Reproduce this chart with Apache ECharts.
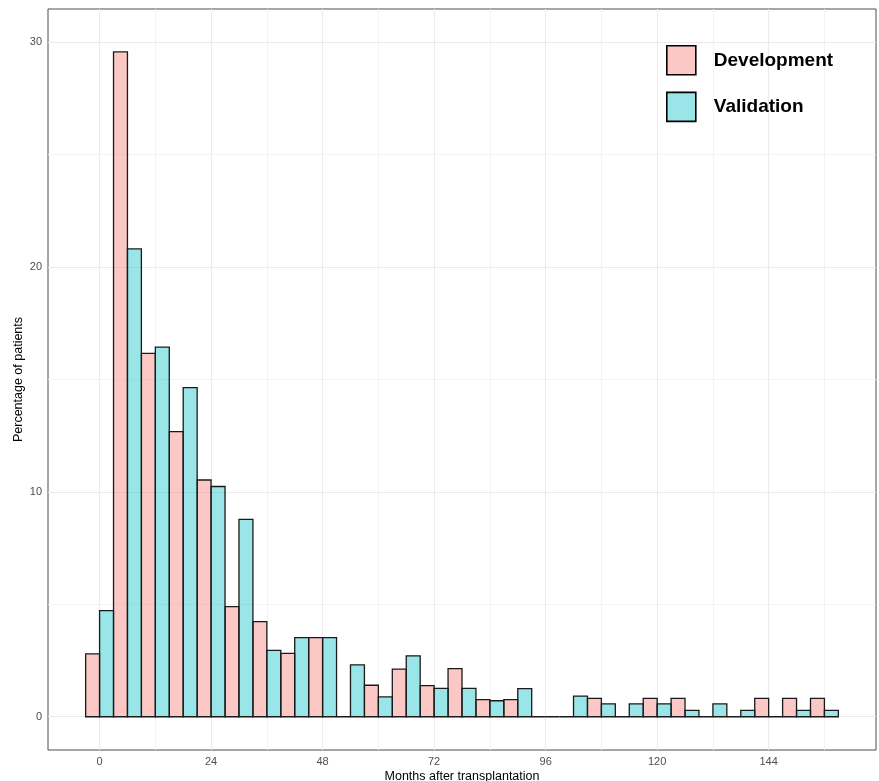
<!DOCTYPE html>
<html>
<head>
<meta charset="utf-8">
<script src="https://cdn.jsdelivr.net/npm/echarts@6/dist/echarts.min.js"></script>
<style>
  html, body { margin: 0; padding: 0; background: #fff; }
  #chart { width: 879px; height: 781px; }
</style>
</head>
<body>
<div id="chart"></div>
<script>
// Histogram bins (months after transplantation), 6-month wide, labelled by centre
const binCenters = [0, 6, 12, 18, 24, 30, 36, 42, 48, 54, 60, 66, 72, 78, 84, 90,
                    96, 102, 108, 114, 120, 126, 132, 138, 144, 150, 156];
const binWidth = 6;

// Percentage of patients per bin
const development = [2.80, 29.57, 16.16, 12.68, 10.53, 4.90, 4.23, 2.82, 3.52, 0, 1.40, 2.12,
                     1.38, 2.14, 0.76, 0.76, 0, 0, 0.82, 0, 0.82, 0.82, 0, 0, 0.82, 0.82, 0.82];
const validation  = [4.72, 20.81, 16.44, 14.64, 10.24, 8.78, 2.95, 3.52, 3.52, 2.31, 0.88, 2.71,
                     1.26, 1.26, 0.71, 1.25, 0, 0.92, 0.57, 0.57, 0.57, 0.28, 0.57, 0.28, 0, 0.28, 0.28];

const seriesNames = ['Development', 'Validation'];
const xTicks = [0, 24, 48, 72, 96, 120, 144];
const xMinorTicks = [12, 36, 60, 84, 108, 132, 156];
const yTicks = [0, 10, 20, 30];
const yMinorTicks = [5, 15, 25];

const FONT = '"Liberation Sans", Arial, Helvetica, sans-serif';
const fills = ['rgba(248,118,109,0.4)', 'rgba(0,191,196,0.4)'];
const outline = '#1a1a1a';

// Dodged bars: development on the left half of each bin, validation on the right
function makeRenderer(fromOffset, toOffset, fill) {
  return function (params, api) {
    const c = api.value(0);
    const v = api.value(1);
    const topLeft = api.coord([c + fromOffset, v]);
    const bottomRight = api.coord([c + toOffset, 0]);
    return {
      type: 'rect',
      shape: {
        x: topLeft[0],
        y: topLeft[1],
        width: bottomRight[0] - topLeft[0],
        height: bottomRight[1] - topLeft[1]
      },
      style: { fill: fill, stroke: outline, lineWidth: 1.3 }
    };
  };
}

const half = binWidth / 2;
const devData = binCenters.map((c, i) => [c, development[i]]);
const valData = binCenters.map((c, i) => [c, validation[i]]);

const gridLineData = []
  .concat(xTicks.map(v => ({ xAxis: v, lineStyle: { color: '#EBEBEB', width: 1.1 } })))
  .concat(xMinorTicks.map(v => ({ xAxis: v, lineStyle: { color: '#F2F2F2', width: 0.9 } })))
  .concat(yTicks.map(v => ({ yAxis: v, lineStyle: { color: '#EBEBEB', width: 1.1 } })))
  .concat(yMinorTicks.map(v => ({ yAxis: v, lineStyle: { color: '#F2F2F2', width: 0.9 } })));

const chart = echarts.init(document.getElementById('chart'), null, { renderer: 'canvas' });

chart.setOption({
  animation: false,
  backgroundColor: '#ffffff',
  textStyle: { fontFamily: FONT },
  grid: {
    left: 48, right: 3, top: 9, bottom: 31,
    containLabel: false,
    outerBoundsMode: 'none',
    show: true, borderColor: '#4d4d4d', borderWidth: 1, backgroundColor: 'transparent'
  },
  legend: {
    orient: 'vertical',
    left: 666, top: 45,
    padding: 0,
    itemWidth: 29, itemHeight: 29, itemGap: 16,
    icon: 'rect',
    textStyle: { fontSize: 19, fontWeight: 'bold', color: '#000', fontFamily: FONT, padding: [0, 0, 0, 13] },
    data: [
      { name: seriesNames[0], itemStyle: { color: fills[0], borderColor: '#000', borderWidth: 1.6 } },
      { name: seriesNames[1], itemStyle: { color: fills[1], borderColor: '#000', borderWidth: 1.6 } }
    ]
  },
  xAxis: {
    type: 'value',
    min: -11.1, max: 167.1,
    name: 'Months after transplantation',
    nameLocation: 'middle', nameGap: 20, nameMoveOverlap: false,
    nameTextStyle: { fontSize: 12.5, color: '#000', fontFamily: FONT },
    axisLine: { show: false },
    axisTick: { show: true, length: 3, lineStyle: { color: '#333' }, customValues: xTicks },
    axisLabel: { customValues: xTicks, color: '#4D4D4D', fontSize: 11, margin: 6, fontFamily: FONT },
    splitLine: { show: false }
  },
  yAxis: {
    type: 'value',
    min: -1.48, max: 31.48,
    name: 'Percentage of patients',
    nameLocation: 'middle', nameGap: 23, nameRotate: 90, nameMoveOverlap: false,
    nameTextStyle: { fontSize: 12.5, color: '#000', fontFamily: FONT },
    axisLine: { show: false },
    axisTick: { show: true, length: 3, lineStyle: { color: '#333' }, customValues: yTicks },
    axisLabel: { customValues: yTicks, color: '#4D4D4D', fontSize: 11, margin: 6, fontFamily: FONT },
    splitLine: { show: false }
  },
  series: [
    {
      name: 'grid',
      type: 'line',
      data: [],
      z: 1,
      silent: true,
      markLine: {
        z: 1,
        silent: true,
        symbol: ['none', 'none'],
        label: { show: false },
        emphasis: { disabled: true },
        lineStyle: { type: 'solid' },
        data: gridLineData
      }
    },
    {
      name: seriesNames[0],
      type: 'custom',
      z: 3,
      renderItem: makeRenderer(-half, 0, fills[0]),
      itemStyle: { color: fills[0] },
      data: devData
    },
    {
      name: seriesNames[1],
      type: 'custom',
      z: 3,
      renderItem: makeRenderer(0, half, fills[1]),
      itemStyle: { color: fills[1] },
      data: valData
    }
  ]
});
</script>
</body>
</html>
